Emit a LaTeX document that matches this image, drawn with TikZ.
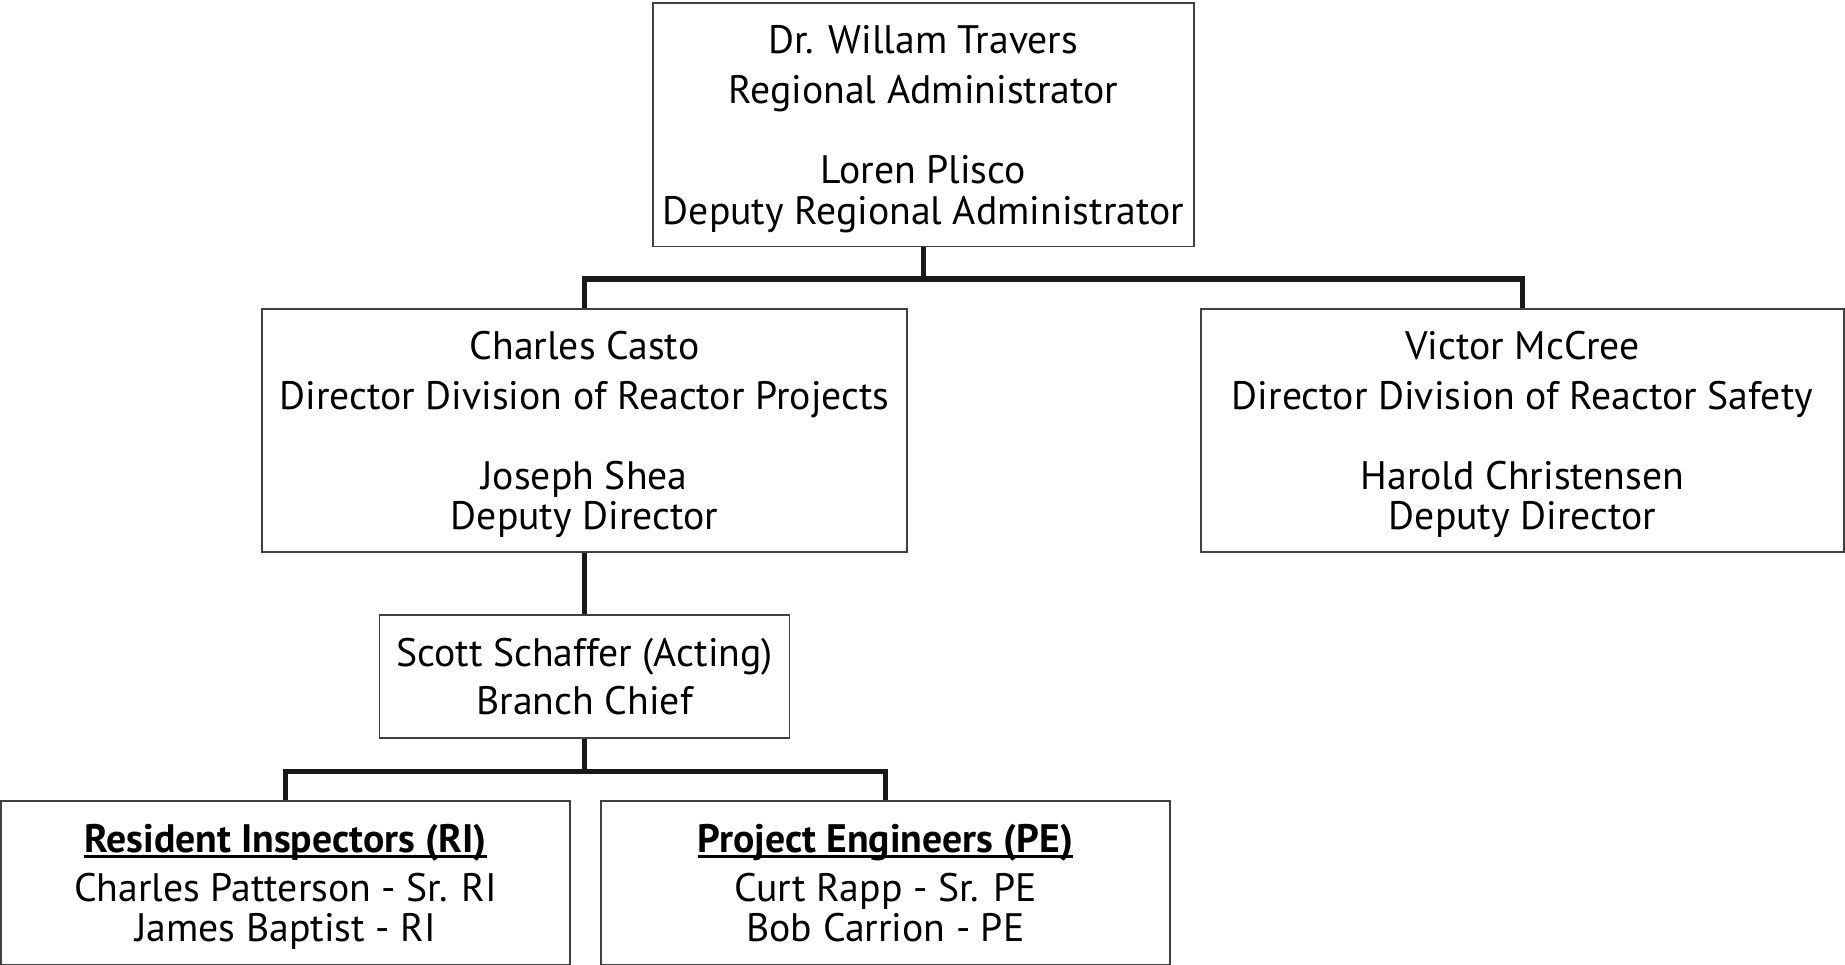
\documentclass[tikz,border=0pt]{standalone}
\usepackage{fontspec}
\setmainfont{PT Sans}
\newcommand\hdrul[1]{\setbox0\hbox{#1}\rlap{\rule[-1.3pt]{\wd0}{0.6pt}}\box0}
\newcommand\toplead{\rule{0pt}{10.3pt}}
\tikzset{
  box/.style={draw=black!75, line width=0.45pt, fill=white, align=center, inner sep=0pt},
  link/.style={line width=1.5pt, draw=black!90}
}
\begin{document}
\begin{tikzpicture}[x=0.01cm, y=-0.01cm, font=\fontsize{11.3}{11.4}\selectfont]
        \useasboundingbox (0,0) rectangle (1845,965);
        \node [box, minimum width=5.41cm, minimum height=2.43cm] (ra)  at (923.5,124.75)
              {\toplead Dr. Willam Travers\\[3pt] Regional Administrator\\[11.4pt] Loren Plisco\\ Deputy Regional Administrator}; %RA
        \node [box, minimum width=6.45cm, minimum height=2.43cm] (drp) at (584.5,430.5)
              {\toplead Charles Casto\\[3pt] Director Division of Reactor Projects\\[11.4pt] Joseph Shea\\ Deputy Director};     %DRP
        \node [box, minimum width=6.43cm, minimum height=2.43cm] (drs) at (1522.5,430.5)
              {\toplead Victor McCree\\[3pt] Director Division of Reactor Safety\\[11.4pt] Harold Christensen\\ Deputy Director}; %DRS
        \node [box, minimum width=4.10cm, minimum height=1.23cm] (bc)  at (584.5,676.5)
              {Scott Schaffer (Acting)\\[2.3pt] Branch Chief};                                                                  %BC
        \node [box, minimum width=5.69cm, minimum height=1.64cm] (ri)  at (285.5,883)
              {\toplead\hdrul{\bfseries Resident Inspectors (RI)}\\[2.3pt] Charles Patterson - Sr. RI\\ James Baptist - RI};   %RI
        \node [box, minimum width=5.69cm, minimum height=1.64cm] (pe)  at (885.5,883)
              {\toplead\hdrul{\bfseries Project Engineers (PE)}\\[2.3pt] Curt Rapp - Sr. PE\\ Bob Carrion - PE\vphantom{p}};   %PE
        \draw [link] (ra.south) -- ++(0,32) coordinate (bus1);   %
        \draw [link] (bus1) -| (drp.north);                       %
        \draw [link] (bus1) -| (drs.north);                       %
        \draw [link] (drp.south) -- (bc.north);                   %
        \draw [link] (bc.south) -- ++(0,33) coordinate (bus2);    %
        \draw [link] (bus2) -| (ri.north);                        %
        \draw [link] (bus2) -| (pe.north);                        %
\end{tikzpicture}
\end{document}
